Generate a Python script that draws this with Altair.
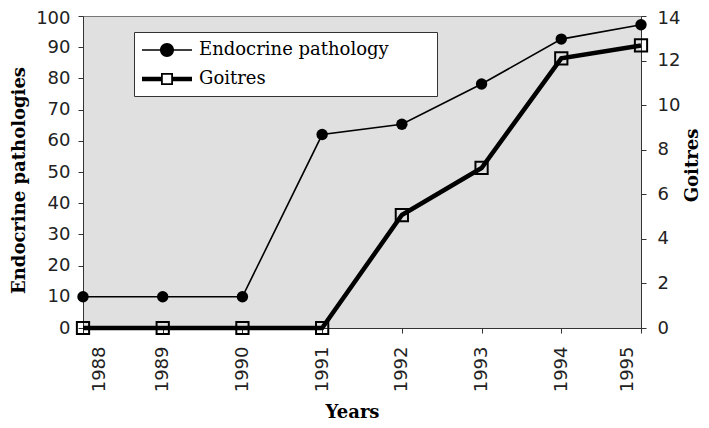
import altair as alt
import pandas as pd

# ---- data ----
years = ["1988", "1989", "1990", "1991", "1992", "1993", "1994", "1995"]
endocrine = [10, 10, 10, 62, 65.3, 78.2, 92.6, 97.2]
goitres = [0, 0, 0, 0, 5.07, 7.18, 12.1, 12.68]
series_names = ["Endocrine pathology", "Goitres"]
left_ticks = list(range(0, 101, 10))
right_ticks = list(range(0, 15, 2))

df_e = pd.DataFrame({"year": years, "value": endocrine, "series": series_names[0]})
df_g = pd.DataFrame({"year": years, "value": goitres, "series": series_names[1]})
df_all = pd.concat([df_e, df_g], ignore_index=True)

# legend symbol paths (unit = 10px with symbolSize 400)
PATH_E = "M-1,-0.08H4V0.08H-1Z M0.8,0A0.7,0.7,0,1,1,2.2,0A0.7,0.7,0,1,1,0.8,0Z"
PATH_G = ("M-1,-0.23H0.9V0.23H-1Z M2.1,-0.23H4V0.23H2.1Z "
          "M0.9,-0.6H2.1V0.6H0.9Z M1.08,-0.42V0.42H1.92V-0.42Z")

SERIF = "DejaVu Serif"
PAD = "\u00a0" * 7 + "\u200b"

legend = alt.Legend(
    orient="none", legendX=51, legendY=16, title=None,
    fillColor="white", strokeColor="#333", padding=8,
    symbolSize=400, symbolStrokeWidth=0, symbolFillColor="black",
    symbolOpacity=1,
    labelFont=SERIF, labelFontSize=18, labelColor="black", labelLimit=400,
    labelExpr=f"datum.label + '{PAD}'",
    rowPadding=10, labelOffset=37,
)

x_enc = alt.X(
    "year:O",
    scale=alt.Scale(type="point", padding=0),
    title="Years",
    axis=alt.Axis(
        labelAngle=270, labelAlign="right", labelBaseline="middle",
        tickSize=5, labelPadding=13,
        labelOffset={"condition": [
            {"test": "datum.value === '1988'", "value": 16},
            {"test": "datum.value === '1995'", "value": -14},
        ], "value": 0},
        titleX=269, titleY=84, titleBaseline="middle", titleAlign="center",
        titleAngle=0,
    ),
)

y_left = alt.Y(
    "value:Q",
    scale=alt.Scale(domain=[0, 100], nice=False),
    title="Endocrine pathologies",
    axis=alt.Axis(values=left_ticks, tickSize=5, labelPadding=8,
                  labelOffset={"condition": {"test": "datum.value === 100", "value": 2},
                               "value": 0},
                  titleAngle=270, titleX=-64, titleY=164,
                  titleBaseline="middle", titleAlign="center"),
)
y_right = alt.Y(
    "value:Q",
    scale=alt.Scale(domain=[0, 14], nice=False),
    title="Goitres",
    axis=alt.Axis(orient="right", values=right_ticks, tickSize=5, labelPadding=11,
                  labelOffset={"condition": {"test": "datum.value === 14", "value": 2},
                               "value": 0},
                  titleAngle=270, titleX=51, titleY=149,
                  titleBaseline="middle", titleAlign="center"),
)

e_line = alt.Chart(df_e).mark_line(strokeWidth=1.6, color="black").encode(x=x_enc, y=y_left)
e_pts = alt.Chart(df_e).mark_point(shape="circle", filled=True, size=130,
                                   color="black", opacity=1).encode(x=x_enc, y=y_left)
# legend-only layer (no marks drawn, legend comes from the shape scale)
leg = alt.Chart(df_all).transform_filter("false").mark_point(
    filled=True, color="black", opacity=1
).encode(
    x=x_enc, y=y_left,
    shape=alt.Shape("series:N",
                    scale=alt.Scale(domain=series_names, range=[PATH_E, PATH_G]),
                    legend=legend),
)
g_line = alt.Chart(df_g).mark_line(strokeWidth=4.5, color="black").encode(x=x_enc, y=y_right)
g_pts = alt.Chart(df_g).mark_point(shape="square", filled=False, size=150,
                                   color="black", strokeWidth=2, opacity=1).encode(x=x_enc, y=y_right)

left = alt.layer(e_line, e_pts, leg)
right = alt.layer(g_line, g_pts)

chart = alt.layer(left, right).resolve_scale(y="independent").properties(
    width=558, height=312,
    autosize=alt.AutoSizeParams(type="none"),
    padding={"left": 75, "top": 8, "right": 60, "bottom": 92},
).configure_view(
    fill="#e0e0e0", stroke="#777", strokeWidth=1,
).configure_axis(
    grid=False,
    labelFont="DejaVu Sans", labelFontSize=18, labelColor="#222",
    titleFont=SERIF, titleFontWeight="bold", titleFontSize=18,
    titleColor="black", domainColor="#333", tickColor="#333",
)

chart.save("out.html", embed_options={"renderer": "svg", "actions": False})
